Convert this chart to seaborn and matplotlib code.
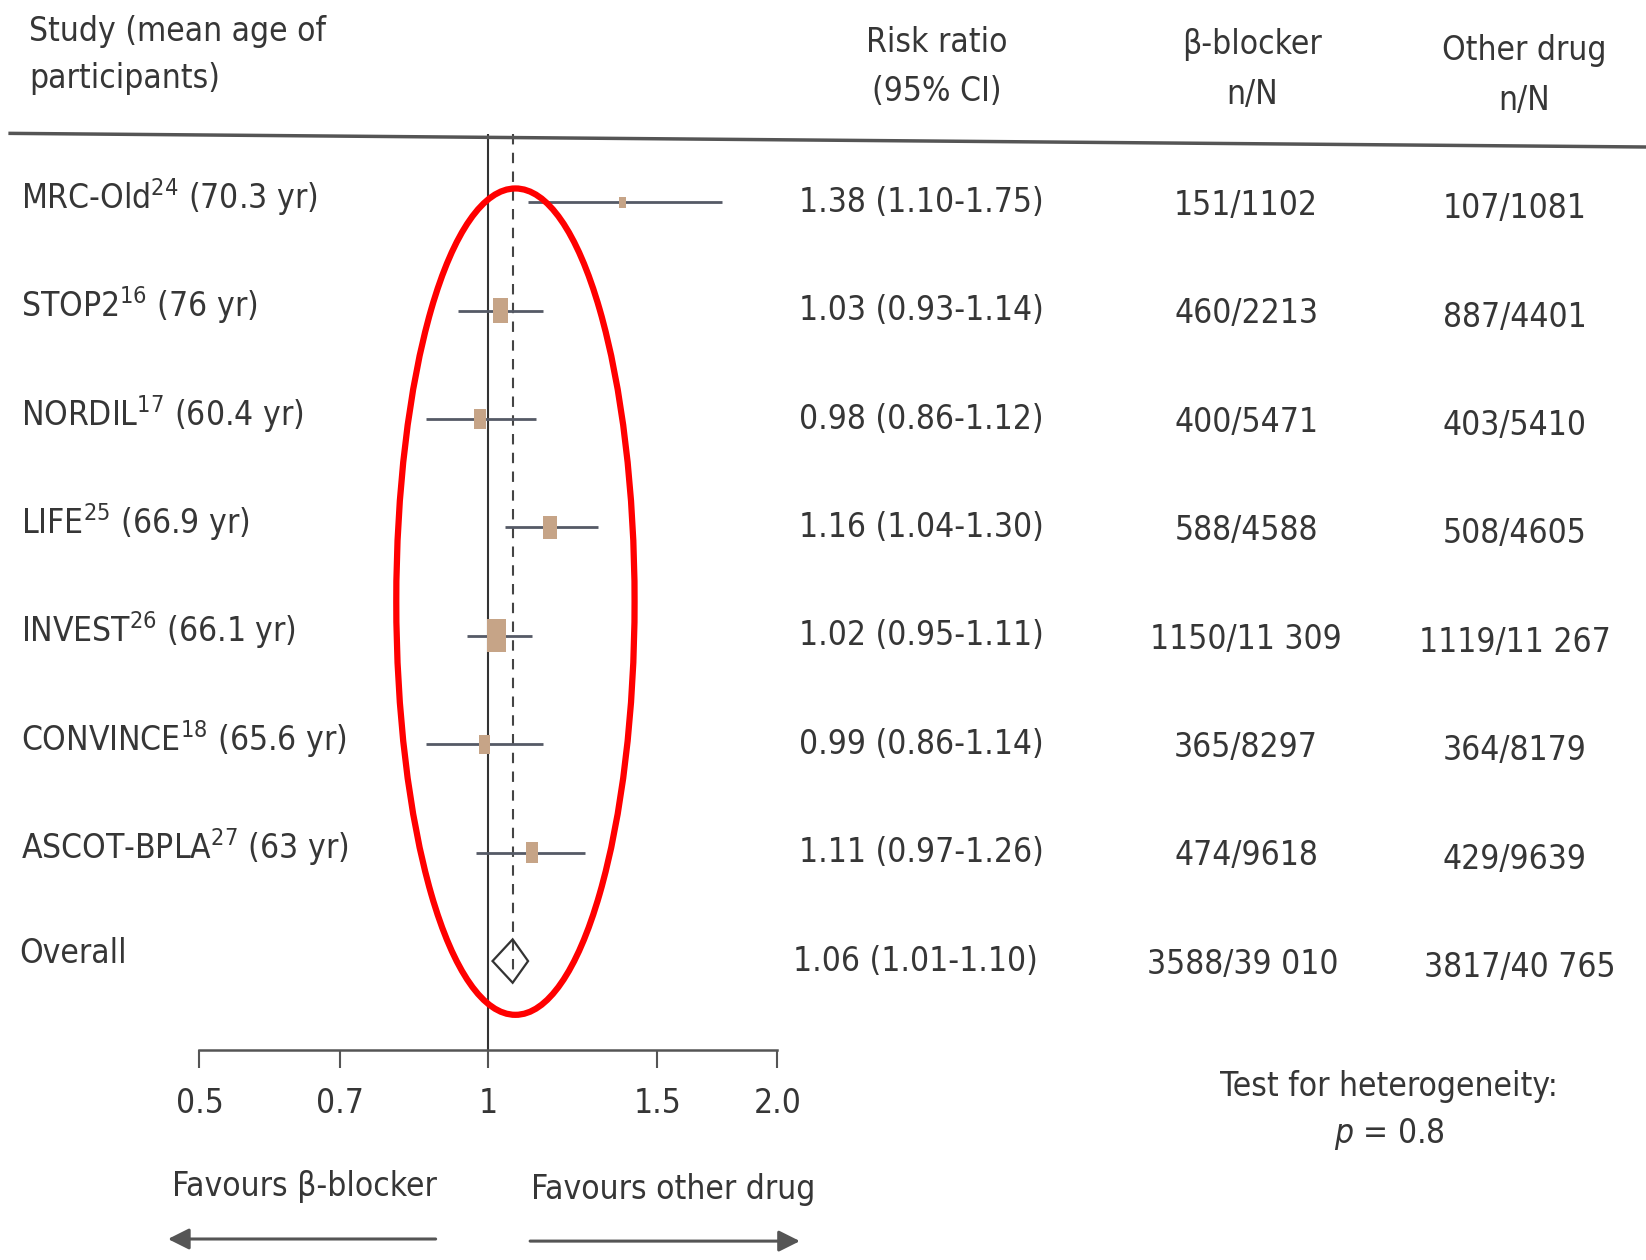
import numpy as np
import pandas as pd
import matplotlib
matplotlib.use("Agg")
import matplotlib.pyplot as plt
import matplotlib.transforms as mtransforms
from matplotlib import font_manager
from matplotlib.patches import Ellipse
import seaborn as sns

# Forest plot data
studies = ["MRC-Old", "STOP2", "NORDIL", "LIFE", "INVEST", "CONVINCE", "ASCOT-BPLA"]
refs = ["24", "16", "17", "25", "26", "18", "27"]
ages = ["70.3", "76", "60.4", "66.9", "66.1", "65.6", "63"]
rr = [1.38, 1.03, 0.98, 1.16, 1.02, 0.99, 1.11]
ci_lo = [1.10, 0.93, 0.86, 1.04, 0.95, 0.86, 0.97]
ci_hi = [1.75, 1.14, 1.12, 1.30, 1.11, 1.14, 1.26]
bb_n = ["151/1102", "460/2213", "400/5471", "588/4588", "1150/11 309", "365/8297", "474/9618"]
other_n = ["107/1081", "887/4401", "403/5410", "508/4605", "1119/11 267", "364/8179", "429/9639"]
overall_rr, overall_lo, overall_hi = 1.06, 1.01, 1.10
overall_bb = "3588/39 010"
overall_other = "3817/40 765"
ticks = [0.5, 0.7, 1, 1.5, 2.0]
tick_labels = ["0.5", "0.7", "1", "1.5", "2.0"]

df = pd.DataFrame({"study": studies, "rr": rr, "lo": ci_lo, "hi": ci_hi,
                   "bb": bb_n, "other": other_n})
df["y"] = np.arange(len(df))
# events in both arms -> marker area
df["events"] = [int(a.split("/")[0]) + int(b.split("/")[0]) for a, b in zip(bb_n, other_n)]
overall_y = len(df)

sns.set_theme(style="white")
fonts = font_manager.fontManager.ttflist
names = {f.name for f in fonts}
condensed = any(f.name == "DejaVu Sans" and f.stretch == "condensed" for f in fonts)
if "Liberation Sans Narrow" in names:
    FONT, FS = "Liberation Sans Narrow", 30
elif condensed:
    FONT, FS = "DejaVu Sans", 24
    plt.rcParams["font.stretch"] = "condensed"
else:
    FONT, FS = "DejaVu Sans", 21.5
plt.rcParams["font.family"] = [FONT, "DejaVu Sans"]
plt.rcParams["mathtext.fontset"] = "custom"
plt.rcParams["mathtext.rm"] = FONT
plt.rcParams["mathtext.it"] = FONT + ":italic"
TXT = "#363636"

fig = plt.figure(figsize=(16.46, 12.6), dpi=100)
fig.patch.set_facecolor("white")

# forest axes, log scale 0.5..2
ax = fig.add_axes([0.1212, 0.1667, 0.351, 0.727])
ax.set_xscale("log")
ax.set_xlim(0.5, 2.0)
ax.set_ylim(7.82, -0.63)
ax.patch.set_visible(False)
for s in ["top", "right", "left"]:
    ax.spines[s].set_visible(False)
ax.spines["bottom"].set_color("#555555")
ax.spines["bottom"].set_linewidth(1.8)
ax.set_xticks(ticks)
ax.set_xticklabels(tick_labels)
ax.xaxis.set_minor_locator(matplotlib.ticker.NullLocator())
ax.set_yticks([])
ax.tick_params(axis="x", direction="out", length=13, width=1.5, color="#555555",
               labelsize=FS, labelcolor=TXT, pad=14, bottom=True)

# reference lines
ax.axvline(1, color="#333333", lw=1.5, zorder=1)
ax.plot([overall_rr, overall_rr], [-0.63, overall_y + 0.1], color="#444444", lw=1.5,
        ls=(0, (5, 4)), zorder=1)

# CI lines and squares
ax.hlines(df["y"], df["lo"], df["hi"], color="#555a66", lw=2.0, zorder=2)
rect = [(-0.6, -1), (0.6, -1), (0.6, 1), (-0.6, 1), (-0.6, -1)]
sns.scatterplot(data=df, x="rr", y="y", size="events", sizes=(0, 560),
                size_norm=(0, df["events"].max()), marker=rect, color="#c6a487",
                edgecolor="#c6a487", linewidth=0, legend=False, ax=ax, zorder=3)
ax.set_xlabel("")
ax.set_ylabel("")

# overall diamond
h = 0.2
ax.fill([overall_lo, overall_rr, overall_hi, overall_rr],
        [overall_y, overall_y - h, overall_y, overall_y + h],
        facecolor="none", edgecolor="#333333", lw=1.6, zorder=3)

# overlay for text and annotations, in picture pixel coordinates
bg = fig.add_axes([0, 0, 1, 1], zorder=5)
bg.set_xlim(0, 1568)
bg.set_ylim(1200, 0)
bg.axis("off")
bg.patch.set_visible(False)

row = mtransforms.blended_transform_factory(bg.transData, ax.transData)

# header
hdr = dict(fontsize=FS, color=TXT, va="center")
bg.text(28, 30, "Study (mean age of", ha="left", **hdr)
bg.text(28, 75, "participants)", ha="left", **hdr)
bg.text(892, 40, "Risk ratio", ha="center", **hdr)
bg.text(892, 87, "(95% CI)", ha="center", **hdr)
bg.text(1193, 42, "β-blocker", ha="center", **hdr)
bg.text(1193, 90, "n/N", ha="center", **hdr)
bg.text(1452, 48, "Other drug", ha="center", **hdr)
bg.text(1452, 96, "n/N", ha="center", **hdr)
bg.plot([8, 1568], [127, 140], color="#555555", lw=2.5, solid_capstyle="butt")

# rows
for i, r in df.iterrows():
    lab = f"{r['study']}$^{{{refs[i]}}}$ ({ages[i]} yr)"
    bg.text(20, r["y"] - 0.05, lab, transform=row, ha="left", **hdr)
    bg.text(878, r["y"], f"{r['rr']:.2f} ({r['lo']:.2f}-{r['hi']:.2f})",
            transform=row, ha="center", **hdr)
    bg.text(1187, r["y"] + 0.03, r["bb"], transform=row, ha="center", **hdr)
    bg.text(1443, r["y"] + 0.06, r["other"], transform=row, ha="center", **hdr)

bg.text(18, overall_y - 0.07, "Overall", transform=row, ha="left", **hdr)
bg.text(872, overall_y, f"{overall_rr:.2f} ({overall_lo:.2f}-{overall_hi:.2f})",
        transform=row, ha="center", **hdr)
bg.text(1184, overall_y + 0.03, overall_bb, transform=row, ha="center", **hdr)
bg.text(1448, overall_y + 0.06, overall_other, transform=row, ha="center", **hdr)

# footer
bg.text(1323, 1035, "Test for heterogeneity:", ha="center", **hdr)
bg.text(1323, 1080, "$p$ = 0.8", ha="center", **hdr)
bg.text(290, 1130, "Favours β-blocker", ha="center", **hdr)
bg.text(641, 1133, "Favours other drug", ha="center", **hdr)
arrow = dict(arrowstyle="-|>", mutation_scale=32, lw=2.2, color="#555555",
             shrinkA=0, shrinkB=0)
bg.annotate("", xy=(160, 1180), xytext=(415, 1180), arrowprops=arrow)
bg.annotate("", xy=(762, 1182), xytext=(505, 1182), arrowprops=arrow)

# red highlight ellipse
bg.add_patch(Ellipse((491, 573), 227, 787, facecolor="none", edgecolor="#ff0000",
                     lw=4.5, zorder=6))

fig.savefig("out.png", dpi=100, facecolor="white")
